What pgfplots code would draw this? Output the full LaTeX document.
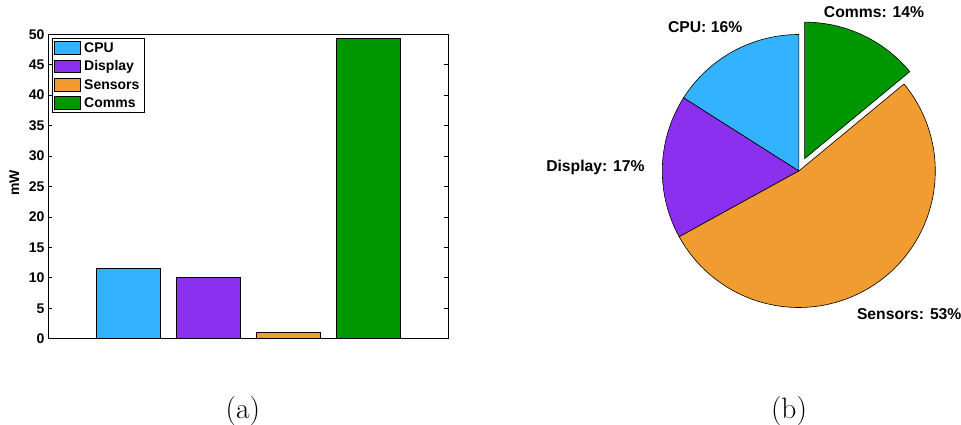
\documentclass[border=0pt]{standalone}
\usepackage{fontspec}
\usepackage{pgfplots}
\pgfplotsset{compat=1.18}
\newfontfamily\hv{Liberation Sans}

\definecolor{cpu}{RGB}{51,178,255}
\definecolor{disp}{RGB}{140,48,240}
\definecolor{sens}{RGB}{240,156,48}
\definecolor{comm}{RGB}{0,150,0}

% power shares (percent) for the pie
\def\pCPU{16}
\def\pDisp{17}
\def\pSens{53}
\def\pComm{14}

\begin{document}
\begin{tikzpicture}
\path[use as bounding box] (0,0) rectangle (961pt,425pt);

% ---------- (a) average power per component ----------
\begin{axis}[
  at={(48pt,86.3pt)}, anchor=south west,
  scale only axis, width=400pt, height=304.4pt,
  xmin=0, xmax=5, ymin=0, ymax=50,
  xtick=\empty,
  ytick={0,5,...,50},
  ybar, /pgf/bar shift=0pt, bar width=0.8,
  tick align=inside, major tick length=4pt,
  axis line style={line width=0.8pt},
  every tick/.style={black, line width=0.8pt},
  /pgf/number format/assume math mode=true,
  yticklabel style={font=\hv\bfseries\fontsize{14}{14}\selectfont},
  ylabel={mW},
  ylabel style={font=\hv\bfseries\fontsize{14}{14}\selectfont,
    at={(axis description cs:-0.084,0.511)}, anchor=center},
  legend style={at={(rel axis cs:0.01,0.987)}, anchor=north west,
    draw=black, line width=0.8pt,
    font=\hv\bfseries\fontsize{14}{14}\selectfont,
    inner xsep=2pt, inner ysep=1pt, row sep=1.4pt,
    nodes={inner ysep=0.6pt, inner xsep=3.4pt, text height=12.2pt, text depth=3.5pt},
    cells={anchor=west}},
  legend image code/.code={
    \draw[#1, line width=0.8pt] (0pt,-6.3pt) rectangle (25.6pt,6.3pt);},
]
\addplot[fill=cpu, draw=black, line width=0.8pt] coordinates {(1,11.5)};
\addplot[fill=disp, draw=black, line width=0.8pt] coordinates {(2,10.0)};
\addplot[fill=sens, draw=black, line width=0.8pt] coordinates {(3,1.1)};
\addplot[fill=comm, draw=black, line width=0.8pt] coordinates {(4,49.4)};
\legend{CPU,Display,Sensors,Comms}
\end{axis}

% ---------- (b) share of power ----------
\pgfmathsetmacro\aA{90}
\pgfmathsetmacro\aB{\aA+3.6*\pCPU}
\pgfmathsetmacro\aC{\aB+3.6*\pDisp}
\pgfmathsetmacro\aD{\aC+3.6*\pSens}
\pgfmathsetmacro\aE{\aD+3.6*\pComm}
\pgfmathsetmacro\aMid{(\aD+\aE)/2}
\pgfmathsetmacro\ex{0.1*cos(\aMid)}
\pgfmathsetmacro\ey{0.1*sin(\aMid)}
\begin{axis}[
  at={(798.8pt,254pt)}, anchor=center,
  scale only axis, x=136.5pt, y=136.5pt,
  xmin=-1.2, xmax=1.2, ymin=-1.2, ymax=1.2,
  axis lines=none, clip=false,
  every axis plot/.append style={draw=black, line width=0.6pt, samples=90},
]
\addplot[fill=cpu, domain=\aA:\aB] ({cos(x)},{sin(x)}) -- (axis cs:0,0) -- cycle;
\addplot[fill=disp, domain=\aB:\aC] ({cos(x)},{sin(x)}) -- (axis cs:0,0) -- cycle;
\addplot[fill=sens, domain=\aC:\aD] ({cos(x)},{sin(x)}) -- (axis cs:0,0) -- cycle;
\addplot[fill=comm, domain=\aD:\aE] ({\ex+cos(x)},{\ey+sin(x)}) -- (axis cs:\ex,\ey) -- cycle;

\begin{scope}[every node/.style={font=\hv\bfseries\fontsize{15.7}{16}\selectfont, anchor=base, inner sep=0pt}]
\node at (axis cs:-0.686,1.0125) {CPU: \pCPU\%};
\node at (axis cs:0.551,1.123) {Comms: \pComm\%};
\node at (axis cs:-1.490,-0.005) {Display: \pDisp\%};
\node at (axis cs:0.809,-1.090) {Sensors: \pSens\%};
\end{scope}
\end{axis}

% sub-figure captions
\node[font=\fontsize{29.5}{30}\selectfont, anchor=base, inner sep=0pt] at (242.8pt,6.2pt) {(a)};
\node[font=\fontsize{29.5}{30}\selectfont, anchor=base, inner sep=0pt] at (789pt,6.2pt) {(b)};
\end{tikzpicture}
\end{document}
